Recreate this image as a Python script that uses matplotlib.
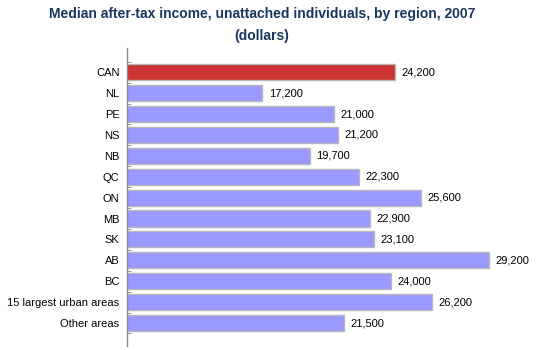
import matplotlib
matplotlib.use("Agg")
import matplotlib.pyplot as plt

categories = ["CAN", "NL", "PE", "NS", "NB", "QC", "ON", "MB", "SK", "AB", "BC",
              "15 largest urban areas", "Other areas"]
values = [24200, 17200, 21000, 21200, 19700, 22300, 25600, 22900, 23100, 29200,
          24000, 26200, 21500]
title_lines = ["Median after-tax income, unattached individuals, by region, 2007", "(dollars)"]

plt.rcParams['font.family'] = ['Liberation Sans', 'DejaVu Sans']

fig = plt.figure(figsize=(5.5, 3.5), dpi=100)
ax = fig.add_axes([126.5/550, 1 - 346/350, (504 - 126.5)/550, (346 - 48)/350])

colors = ["#CC3333"] + ["#9999FF"] * (len(values) - 1)
y = list(range(len(categories)))
ax.barh(y, values, height=0.77, color=colors, edgecolor="#B8B8B8", linewidth=1.0)

ax.set_xlim(10000, 30000)
ax.set_ylim(len(categories) - 1 + 1.1, -1.16)
ax.set_yticks(y)
ax.set_yticklabels(categories, fontsize=8, color="black")
ax.tick_params(axis='y', length=0, pad=5)
ax.set_yticks([i + 0.5 for i in range(-1, len(categories))], minor=True)
ax.tick_params(axis='y', which='minor', length=3, color="#888888", direction='in')
ax.set_xticks([])
for s in ["top", "right", "bottom"]:
    ax.spines[s].set_visible(False)
ax.spines["left"].set_color("#888888")
ax.spines["left"].set_linewidth(1.0)

for yi, v in zip(y, values):
    ax.text(v + 350, yi, f"{v:,}", va="center", ha="left", fontsize=8, color="black")

fig.text(262/550, 1 - 14/350, title_lines[0], ha="center", va="center",
         fontsize=10, fontweight="bold", color="#17375E")
fig.text(262/550, 1 - 36/350, title_lines[1], ha="center", va="center",
         fontsize=10, fontweight="bold", color="#17375E")

fig.savefig("out.png", dpi=100)
